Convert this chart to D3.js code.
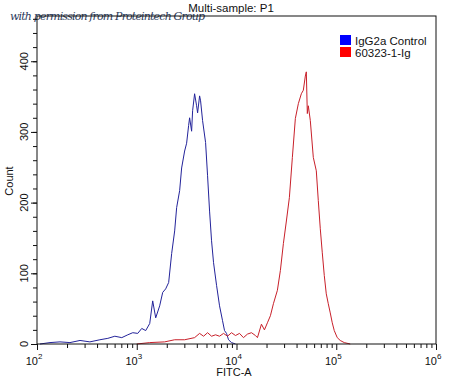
<!doctype html>
<html>
<head>
<style>
  body { margin: 0; background: #fff; }
  text { font-family: "Liberation Sans", Arial, sans-serif; fill: #111; }
</style>
<script src="https://d3js.org/d3.v7.min.js"></script>
</head>
<body>
<div id="chart"></div>
<script>
// FITC-A channel value and event count
var controlFitc = [107, 135, 170, 214, 270, 339, 427, 513, 603, 708, 813, 912, 1023, 1122, 1230, 1349, 1445, 1549, 1698, 1820, 1950, 2089, 2239, 2399, 2512, 2692, 2818, 3020, 3162, 3311, 3388, 3548, 3631, 3802, 3981, 4074, 4266, 4365, 4571, 4898, 5129, 5370, 5623, 5888, 6310, 6761, 7244, 7586, 7943, 8318, 8913, 9772];
var controlCount = [0, 2, 3, 2, 5, 3, 6, 8, 11, 9, 13, 16, 15, 22, 19, 29, 61, 37, 54, 73, 78, 87, 128, 160, 193, 217, 249, 273, 284, 309, 320, 301, 330, 354, 337, 327, 351, 344, 316, 285, 238, 188, 146, 115, 83, 54, 33, 19, 15, 6, 2, 0];

var sampleFitc = [1000, 1349, 1905, 2399, 3020, 3802, 4266, 4677, 5129, 5623, 6166, 6761, 7413, 8128, 8913, 9772, 10715, 11749, 12882, 14125, 15488, 16218, 17783, 19055, 20417, 21878, 23442, 25704, 27542, 29512, 31623, 33884, 36308, 38905, 41687, 44668, 46774, 48978, 50119, 51286, 52481, 54954, 58884, 63096, 66069, 69183, 72444, 75858, 79433, 83176, 87096, 91201, 95499, 102329, 109648, 120226, 138038];
var sampleCount = [0, 2, 3, 6, 6, 9, 15, 11, 16, 11, 13, 11, 15, 11, 16, 12, 15, 9, 14, 16, 12, 9, 28, 20, 30, 40, 57, 76, 104, 142, 174, 207, 264, 319, 340, 354, 359, 379, 385, 326, 337, 316, 264, 245, 203, 163, 129, 97, 71, 57, 44, 30, 19, 9, 5, 2, 0];

var seriesNames = ["IgG2a Control", "60323-1-Ig"];
var seriesColors = ["#0000ff", "#ff0000"];
var lineColors = ["#23239a", "#c8202a"];
var decadeExponents = [2, 3, 4, 5, 6];
var yMajorTicks = [0, 100, 200, 300, 400];

var W = 450, H = 378;
var plot = {left: 37, right: 436, top: 16, bottom: 344};

var svg = d3.select("#chart").append("svg")
  .attr("width", W)
  .attr("height", H);

var x = d3.scaleLog().domain([100, 1000000]).range([plot.left, plot.right]);
var y = d3.scaleLinear().domain([0, 464]).range([plot.bottom, plot.top]);

// watermark (frame line runs through it)
svg.append("text")
  .attr("x", 10)
  .attr("y", 20)
  .attr("textLength", 195)
  .style("font-family", "'DejaVu Serif', serif")
  .style("font-style", "italic")
  .style("font-size", "11px")
  .style("fill", "#2c3b5c")
  .text("with permission from Proteintech Group");

// title
svg.append("text")
  .attr("x", 231)
  .attr("y", 12)
  .attr("text-anchor", "middle")
  .style("font-size", "11.5px")
  .text("Multi-sample: P1");

// curves
var line = d3.line()
  .x(function(d) { return x(d[0]); })
  .y(function(d) { return y(d[1]); });

var series = [d3.zip(controlFitc, controlCount), d3.zip(sampleFitc, sampleCount)];

series.forEach(function(s, i) {
  svg.append("path")
    .datum(s)
    .attr("d", line)
    .attr("fill", "none")
    .attr("stroke", lineColors[i])
    .attr("stroke-width", 1);
});

// frame
svg.append("rect")
  .attr("x", plot.left)
  .attr("y", plot.top)
  .attr("width", plot.right - plot.left)
  .attr("height", plot.bottom - plot.top)
  .attr("fill", "none")
  .attr("stroke", "#111")
  .attr("stroke-width", 1);

// x axis ticks: majors at decades, minors at 2..9
var xMinor = [];
decadeExponents.slice(0, -1).forEach(function(e) {
  for (var k = 2; k <= 9; k++) xMinor.push(k * Math.pow(10, e));
});
var xMajor = decadeExponents.map(function(e) { return Math.pow(10, e); });

function plainTicks(g) {
  g.select(".domain").remove();
  g.selectAll("line").attr("stroke", "#111");
}

svg.append("g")
  .attr("transform", "translate(0," + plot.bottom + ")")
  .call(d3.axisBottom(x).tickValues(xMinor).tickSize(4).tickFormat(""))
  .call(plainTicks);

svg.append("g")
  .attr("transform", "translate(0," + plot.bottom + ")")
  .call(d3.axisBottom(x).tickValues(xMajor).tickSize(6).tickFormat(""))
  .call(plainTicks);

// x tick labels with superscripts
decadeExponents.forEach(function(e) {
  var t = svg.append("text")
    .attr("x", x(Math.pow(10, e)) - 3)
    .attr("y", 365)
    .attr("text-anchor", "middle")
    .style("font-size", "11px");
  t.append("tspan").text("10");
  t.append("tspan")
    .attr("dy", -6)
    .style("font-size", "8px")
    .text(e);
});

svg.append("text")
  .attr("x", 234)
  .attr("y", 376)
  .attr("text-anchor", "middle")
  .style("font-size", "11px")
  .text("FITC-A");

// y axis ticks: majors every 100, minors every 20
svg.append("g")
  .attr("transform", "translate(" + plot.left + ",0)")
  .call(d3.axisLeft(y).tickValues(d3.range(0, 461, 20)).tickSize(4).tickFormat(""))
  .call(plainTicks);

svg.append("g")
  .attr("transform", "translate(" + plot.left + ",0)")
  .call(d3.axisLeft(y).tickValues(yMajorTicks).tickSize(6).tickFormat(""))
  .call(plainTicks);

yMajorTicks.forEach(function(v) {
  svg.append("text")
    .attr("transform", "translate(28," + y(v) + ") rotate(-90)")
    .attr("text-anchor", "middle")
    .style("font-size", "11px")
    .text(v);
});

svg.append("text")
  .attr("transform", "translate(13,181) rotate(-90)")
  .attr("text-anchor", "middle")
  .style("font-size", "11px")
  .text("Count");

// legend
var legend = svg.append("g").attr("transform", "translate(340,35)");
seriesNames.forEach(function(name, i) {
  legend.append("rect")
    .attr("x", 0)
    .attr("y", i * 12)
    .attr("width", 11)
    .attr("height", 10)
    .attr("fill", seriesColors[i]);
  legend.append("text")
    .attr("x", 15)
    .attr("y", i * 12 + 10)
    .style("font-size", "11.5px")
    .text(name);
});
</script>
</body>
</html>
